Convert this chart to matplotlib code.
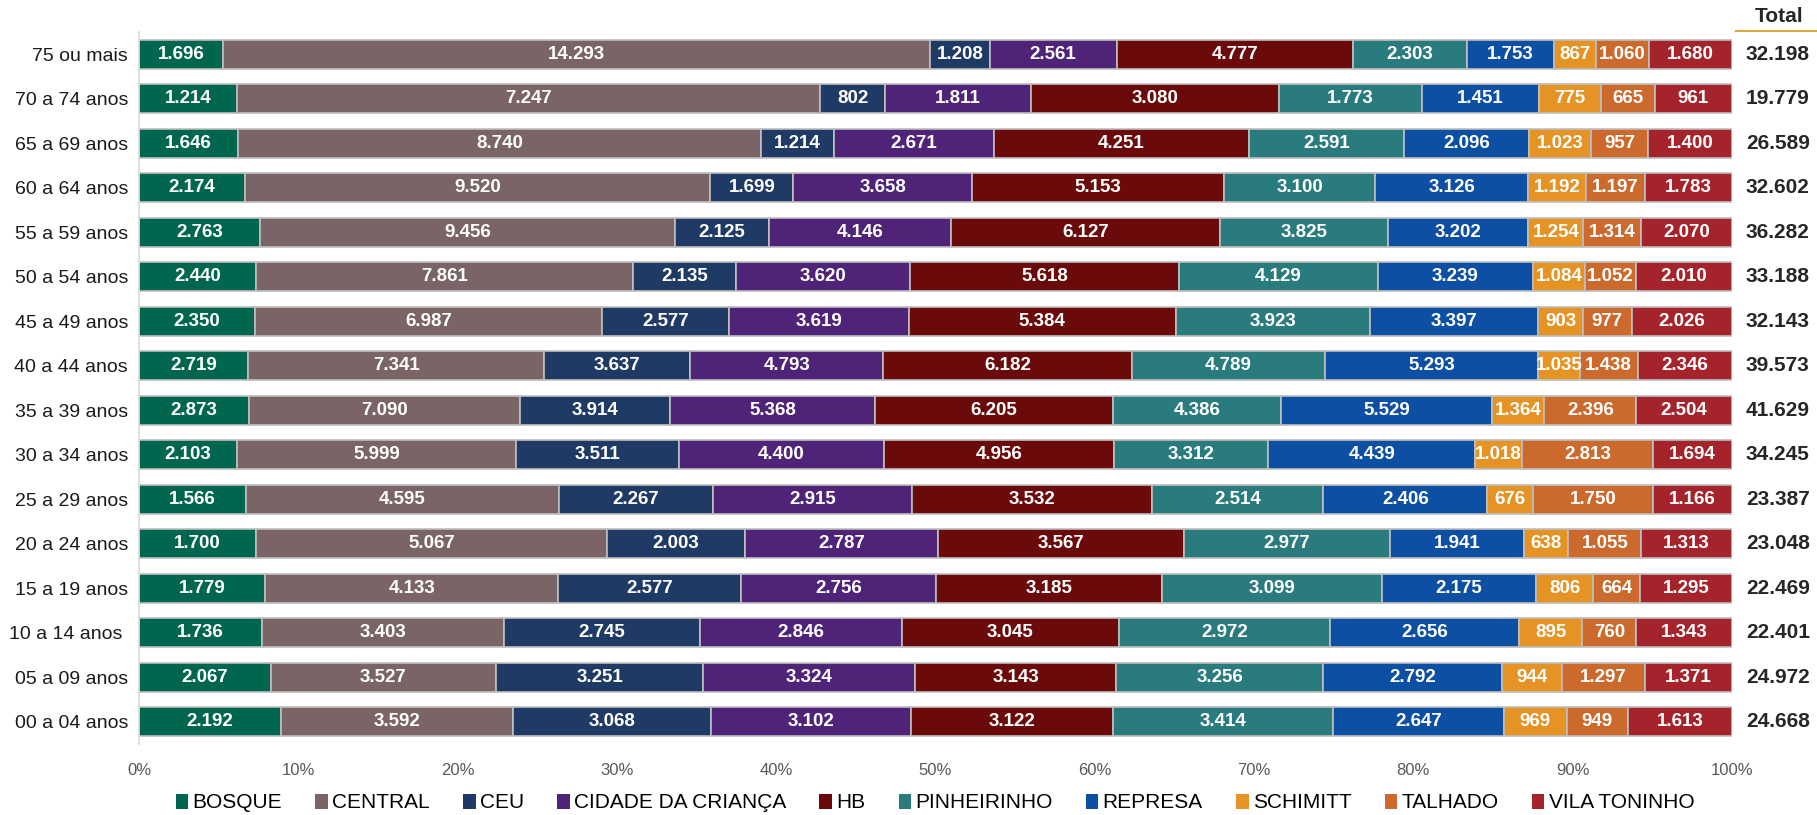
import numpy as np
import matplotlib
matplotlib.use('Agg')
import matplotlib.pyplot as plt
from matplotlib.patches import Patch
from matplotlib.lines import Line2D

# faixas etarias (de cima para baixo)
faixas = ['75 ou mais', '70 a 74 anos', '65 a 69 anos', '60 a 64 anos', '55 a 59 anos',
          '50 a 54 anos', '45 a 49 anos', '40 a 44 anos', '35 a 39 anos', '30 a 34 anos',
          '25 a 29 anos', '20 a 24 anos', '15 a 19 anos', '10 a 14 anos ', '05 a 09 anos',
          '00 a 04 anos']

unidades = ['BOSQUE', 'CENTRAL', 'CEU', 'CIDADE DA CRIANÇA', 'HB', 'PINHEIRINHO',
            'REPRESA', 'SCHIMITT', 'TALHADO', 'VILA TONINHO']

bosque = [1696, 1214, 1646, 2174, 2763, 2440, 2350, 2719, 2873, 2103, 1566, 1700, 1779, 1736, 2067, 2192]
central = [14293, 7247, 8740, 9520, 9456, 7861, 6987, 7341, 7090, 5999, 4595, 5067, 4133, 3403, 3527, 3592]
ceu = [1208, 802, 1214, 1699, 2125, 2135, 2577, 3637, 3914, 3511, 2267, 2003, 2577, 2745, 3251, 3068]
cidade = [2561, 1811, 2671, 3658, 4146, 3620, 3619, 4793, 5368, 4400, 2915, 2787, 2756, 2846, 3324, 3102]
hb = [4777, 3080, 4251, 5153, 6127, 5618, 5384, 6182, 6205, 4956, 3532, 3567, 3185, 3045, 3143, 3122]
pinheirinho = [2303, 1773, 2591, 3100, 3825, 4129, 3923, 4789, 4386, 3312, 2514, 2977, 3099, 2972, 3256, 3414]
represa = [1753, 1451, 2096, 3126, 3202, 3239, 3397, 5293, 5529, 4439, 2406, 1941, 2175, 2656, 2792, 2647]
schimitt = [867, 775, 1023, 1192, 1254, 1084, 903, 1035, 1364, 1018, 676, 638, 806, 895, 944, 969]
talhado = [1060, 665, 957, 1197, 1314, 1052, 977, 1438, 2396, 2813, 1750, 1055, 664, 760, 1297, 949]
vila_toninho = [1680, 961, 1400, 1783, 2070, 2010, 2026, 2346, 2504, 1694, 1166, 1313, 1295, 1343, 1371, 1613]

cores = ['#00664F', '#7A6466', '#1F3A64', '#4E2378', '#6B0A0A', '#2A7B7D',
         '#0D4FA3', '#E69326', '#CB6A2C', '#A5232A']

series = [bosque, central, ceu, cidade, hb, pinheirinho, represa, schimitt, talhado, vila_toninho]
dados = np.array(series, dtype=float)
totais = dados.sum(axis=0)
pct = dados / totais

plt.rcParams['font.family'] = ['Liberation Sans', 'DejaVu Sans']


def fmt(v):
    return f'{int(round(v)):,}'.replace(',', '.')


fig = plt.figure(figsize=(18.17, 8.15), dpi=100)
ax = fig.add_axes([139 / 1817, 1 - 744 / 815, (1732 - 139) / 1817, (744 - 32) / 815])

y = np.arange(len(faixas))
left = np.zeros(len(faixas))
for i, nome in enumerate(unidades):
    ax.barh(y, pct[i], left=left, height=0.66, color=cores[i],
            edgecolor='#BFBFBF', linewidth=1.2, zorder=2)
    for j in range(len(faixas)):
        ax.text(left[j] + pct[i][j] / 2, y[j], fmt(dados[i][j]), ha='center', va='center',
                color='white', fontsize=13.5, fontweight='bold', zorder=3)
    left += pct[i]

# totais a direita
for j in range(len(faixas)):
    ax.text(1.0087, y[j], fmt(totais[j]), ha='left', va='center', color='#262626',
            fontsize=15, fontweight='bold', transform=ax.get_yaxis_transform())
fig.text(1779 / 1817, 1 - 17 / 815, 'Total', ha='center', va='center', color='#262626',
         fontsize=15, fontweight='bold')
fig.add_artist(Line2D([1736 / 1817, 1.0], [1 - 31 / 815, 1 - 31 / 815],
                      color='#D9A83A', linewidth=1.5, transform=fig.transFigure))

ax.set_xlim(0, 1)
ax.set_ylim(len(faixas) - 0.5, -0.5)
ax.set_yticks(y)
ax.set_yticklabels(faixas, fontsize=14, color='#1a1a1a')
ax.set_xticks(np.linspace(0, 1, 11))
ax.set_xticklabels([f'{int(p)}%' for p in np.linspace(0, 100, 11)], fontsize=12,
                   color='#595959')
ax.tick_params(axis='both', length=0)
ax.tick_params(axis='x', pad=14)
ax.tick_params(axis='y', pad=8)
for s in ['top', 'right', 'bottom']:
    ax.spines[s].set_visible(False)
ax.spines['left'].set_color('#D9D9D9')
ax.spines['left'].set_linewidth(1.2)

handles = [Patch(facecolor=c, edgecolor='none') for c in cores]
fig.legend(handles, unidades, loc='center', bbox_to_anchor=(935 / 1817, 1 - 803 / 815),
           ncol=10, frameon=False, handlelength=0.6, handleheight=0.75, handletextpad=0.2,
           columnspacing=1.6, prop={'size': 15})

fig.savefig('out.png', dpi=100)
